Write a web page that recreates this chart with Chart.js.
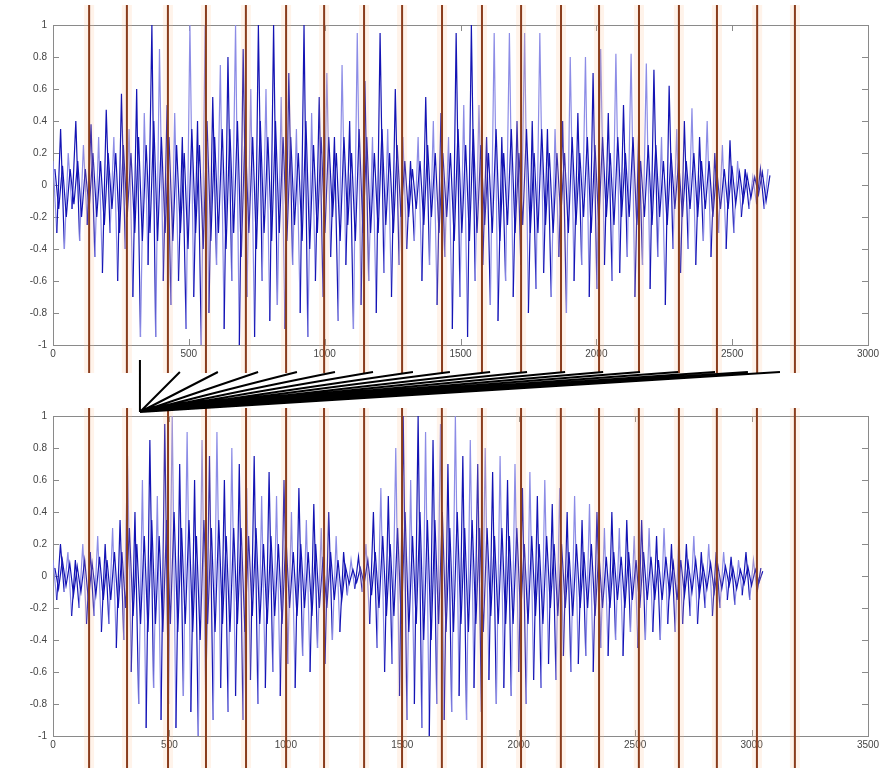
<!DOCTYPE html>
<html>
<head>
<meta charset="utf-8">
<script src="https://cdn.jsdelivr.net/npm/chart.js@4"></script>
<style>
  html, body { margin: 0; padding: 0; background: #fff; }
  #wrap { position: relative; width: 883px; height: 770px; overflow: hidden; }
  canvas { position: absolute; left: 0; }
  #top { top: 0; }
  #bottom { top: 395px; }
  #links { top: 355px; pointer-events: none; }
</style>
</head>
<body>
<div id="wrap">
  <canvas id="top" width="883" height="385"></canvas>
  <canvas id="bottom" width="883" height="375"></canvas>
  <canvas id="links" width="883" height="65"></canvas>
</div>
<script>
// waveform peaks, one value every topStep / bottomStep samples
const topStep = 14;
const topWave = [
  0.15,-0.3,0.35,-0.4,0.2,-0.15,0.4,-0.35,0.25,-0.25,
  0.38,-0.45,0.3,-0.55,0.47,-0.3,0.3,-0.6,0.57,-0.4,
  0.35,-0.7,0.6,-0.95,0.45,-0.5,1.0,-0.95,0.85,-0.6,
  0.5,-0.75,0.45,-0.6,0.3,-0.9,1.0,-0.7,0.4,-1.0,
  1.0,-0.8,0.55,-0.5,0.75,-0.9,0.8,-0.6,1.0,-1.0,
  0.85,-0.7,0.6,-0.95,1.0,-0.6,0.6,-0.85,1.0,-0.75,
  0.55,-0.9,0.7,-0.5,0.35,-0.8,1.0,-0.95,0.45,-0.6,
  0.55,-0.7,0.7,-0.45,0.3,-0.85,0.75,-0.5,0.4,-0.9,
  0.95,-0.75,0.65,-0.6,0.3,-0.8,0.95,-0.55,0.35,-0.7,
  0.6,-0.5,0.3,-0.4,0.15,-0.35,0.3,-0.6,0.55,-0.5,
  0.4,-0.75,0.45,-0.45,0.3,-0.9,0.95,-0.7,0.5,-0.95,
  1.0,-0.6,0.5,-0.5,0.3,-0.75,0.95,-0.85,0.3,-0.6,
  0.95,-0.7,0.4,-0.5,0.95,-0.8,0.4,-0.65,0.95,-0.55,
  0.35,-0.7,0.35,-0.45,0.4,-0.8,0.8,-0.6,0.45,-0.5,
  0.8,-0.7,0.7,-0.65,0.85,-0.5,0.45,-0.6,0.82,-0.55,
  0.5,-0.45,0.82,-0.7,0.35,-0.5,0.76,-0.65,0.72,-0.45,
  0.3,-0.75,0.62,-0.4,0.35,-0.55,0.4,-0.4,0.48,-0.5,
  0.3,-0.35,0.4,-0.45,0.2,-0.3,0.25,-0.4,0.28,-0.3,
  0.15,-0.2,0.1,-0.15,0.05,-0.12,0.1,-0.15,0.1
];
// dense low-level part of the signal, half a step after each peak
const topCore = [
  0.1,-0.15,0.12,-0.2,0.1,-0.12,0.15,-0.2,0.1,-0.15,
  0.2,-0.2,0.15,-0.25,0.2,-0.15,0.2,-0.3,0.25,-0.2,
  0.2,-0.3,0.3,-0.35,0.25,-0.3,0.4,-0.35,0.3,-0.3,
  0.3,-0.35,0.25,-0.3,0.2,-0.4,0.35,-0.3,0.25,-0.4,
  0.4,-0.35,0.3,-0.3,0.35,-0.4,0.35,-0.3,0.4,-0.45,
  0.35,-0.3,0.3,-0.4,0.4,-0.3,0.3,-0.35,0.4,-0.3,
  0.3,-0.35,0.3,-0.25,0.2,-0.35,0.4,-0.4,0.25,-0.3,
  0.3,-0.3,0.3,-0.2,0.2,-0.35,0.3,-0.25,0.2,-0.35,
  0.35,-0.3,0.3,-0.3,0.2,-0.3,0.35,-0.25,0.2,-0.3,
  0.25,-0.2,0.15,-0.2,0.1,-0.15,0.15,-0.25,0.25,-0.2,
  0.2,-0.3,0.2,-0.2,0.2,-0.35,0.35,-0.3,0.25,-0.35,
  0.35,-0.3,0.25,-0.25,0.2,-0.3,0.35,-0.35,0.2,-0.25,
  0.35,-0.3,0.2,-0.25,0.35,-0.3,0.2,-0.3,0.35,-0.25,
  0.2,-0.3,0.2,-0.2,0.2,-0.3,0.3,-0.25,0.2,-0.2,
  0.3,-0.3,0.25,-0.25,0.3,-0.2,0.2,-0.25,0.3,-0.2,
  0.2,-0.2,0.3,-0.25,0.15,-0.2,0.25,-0.25,0.25,-0.2,
  0.15,-0.25,0.2,-0.15,0.15,-0.2,0.15,-0.15,0.2,-0.2,
  0.15,-0.15,0.15,-0.2,0.1,-0.15,0.1,-0.15,0.12,-0.12,
  0.08,-0.1,0.06,-0.08,0.05,-0.06,0.08,-0.1,0.06
];
const bottomStep = 16;
const bottomWave = [
  0.1,-0.15,0.2,-0.1,0.15,-0.25,0.1,-0.2,0.2,-0.3,
  0.15,-0.25,0.25,-0.35,0.2,-0.3,0.3,-0.45,0.35,-0.4,
  0.75,-0.6,0.4,-0.8,0.6,-0.95,0.85,-0.7,0.5,-0.9,
  0.95,-0.8,1.0,-0.95,0.7,-0.75,0.9,-0.85,0.6,-1.0,
  0.85,-0.8,0.75,-0.9,0.9,-0.7,0.6,-0.85,0.8,-0.75,
  0.7,-0.9,0.55,-0.65,0.75,-0.8,0.5,-0.7,0.65,-0.6,
  0.5,-0.75,0.6,-0.55,0.4,-0.7,0.55,-0.5,0.35,-0.6,
  0.45,-0.45,0.3,-0.55,0.4,-0.4,0.25,-0.35,0.15,-0.12,
  0.1,-0.08,0.12,-0.1,0.2,-0.3,0.4,-0.45,0.55,-0.6,
  0.5,-0.55,0.8,-0.75,1.0,-0.9,0.6,-0.8,1.0,-0.95,
  0.9,-1.0,0.85,-0.8,0.95,-0.9,0.7,-0.85,1.0,-0.75,
  0.75,-0.9,0.85,-0.7,0.7,-0.85,0.8,-0.65,0.65,-0.8,
  0.75,-0.7,0.6,-0.75,0.7,-0.6,0.55,-0.8,0.65,-0.65,
  0.5,-0.7,0.6,-0.55,0.45,-0.65,0.55,-0.5,0.4,-0.6,
  0.5,-0.55,0.35,-0.5,0.45,-0.6,0.4,-0.45,0.3,-0.5,
  0.4,-0.4,0.3,-0.5,0.35,-0.35,0.25,-0.45,0.35,-0.4,
  0.3,-0.35,0.25,-0.4,0.3,-0.3,0.2,-0.35,0.25,-0.3,
  0.2,-0.25,0.25,-0.3,0.15,-0.2,0.2,-0.25,0.15,-0.2,
  0.15,-0.15,0.12,-0.18,0.1,-0.12,0.15,-0.15,0.1,-0.1,0.05
];
const bottomCore = [
  0.05,-0.08,0.1,-0.06,0.08,-0.12,0.06,-0.1,0.1,-0.15,
  0.08,-0.12,0.12,-0.15,0.1,-0.15,0.15,-0.2,0.15,-0.2,
  0.3,-0.25,0.2,-0.3,0.25,-0.35,0.35,-0.3,0.25,-0.35,
  0.35,-0.3,0.4,-0.35,0.3,-0.3,0.35,-0.35,0.25,-0.4,
  0.35,-0.3,0.3,-0.35,0.35,-0.3,0.25,-0.35,0.3,-0.3,
  0.3,-0.35,0.25,-0.25,0.3,-0.3,0.2,-0.3,0.25,-0.25,
  0.2,-0.3,0.25,-0.2,0.15,-0.25,0.2,-0.2,0.15,-0.25,
  0.2,-0.2,0.12,-0.2,0.15,-0.15,0.1,-0.15,0.06,-0.05,
  0.04,-0.04,0.05,-0.05,0.1,-0.12,0.15,-0.2,0.25,-0.25,
  0.2,-0.25,0.3,-0.3,0.4,-0.35,0.25,-0.3,0.4,-0.4,
  0.35,-0.4,0.35,-0.3,0.4,-0.35,0.3,-0.35,0.4,-0.3,
  0.3,-0.35,0.35,-0.3,0.3,-0.35,0.3,-0.25,0.25,-0.3,
  0.3,-0.3,0.25,-0.3,0.3,-0.25,0.2,-0.3,0.25,-0.25,
  0.2,-0.3,0.25,-0.2,0.2,-0.25,0.2,-0.2,0.15,-0.25,
  0.2,-0.2,0.15,-0.2,0.2,-0.25,0.15,-0.2,0.12,-0.2,
  0.15,-0.15,0.12,-0.2,0.15,-0.15,0.1,-0.2,0.15,-0.15,
  0.12,-0.15,0.1,-0.15,0.12,-0.12,0.08,-0.15,0.1,-0.12,
  0.08,-0.1,0.1,-0.12,0.06,-0.08,0.08,-0.1,0.06,-0.08,
  0.06,-0.06,0.05,-0.08,0.04,-0.05,0.06,-0.06,0.04,-0.04,0.03
];

// segment boundaries (sample index)
const topMarks = [133,272,423,563,710,858,998,1145,1285,1432,1579,1723,1870,2010,2157,2304,2444,2592,2731];
const bottomMarks = [155,318,494,657,829,1001,1164,1336,1499,1670,1842,2010,2181,2345,2516,2688,2851,3023,3186];

// alignment fan, in top-panel sample units
const linkStart = 320;
const linkEnds = [467,607,755,898,1038,1178,1325,1461,1609,1745,1885,2025,2161,2301,2437,2558,2676];

const topMax = 3000, bottomMax = 3500;

const dark = '#1414b4';
const light = '#8c8ce6';
const brown = '#8a3c1c';
const tickFont = { family: 'Liberation Sans', size: 10 };

function waveData(vals, step, offset) {
  return vals.map((v, i) => ({ x: i * step + offset, y: v }));
}

function markData(xs, y0, y1) {
  const d = [];
  xs.forEach(x => { d.push({ x: x, y: y0 }, { x: x, y: y1 }, { x: x, y: null }); });
  return d;
}

// matlab style box with inward ticks
const matlabBox = {
  id: 'matlabBox',
  beforeDatasetsDraw(chart) {
    const a = chart.chartArea;
    const ctx = chart.ctx;
    ctx.save();
    ctx.strokeStyle = '#8a8a8a';
    ctx.lineWidth = 1;
    ctx.strokeRect(a.left + 0.5, a.top + 0.5, a.right - a.left, a.bottom - a.top);
    ctx.beginPath();
    chart.scales.x.ticks.forEach(t => {
      const px = Math.round(chart.scales.x.getPixelForValue(t.value)) + 0.5;
      ctx.moveTo(px, a.bottom); ctx.lineTo(px, a.bottom - 6);
      ctx.moveTo(px, a.top); ctx.lineTo(px, a.top + 6);
    });
    chart.scales.y.ticks.forEach(t => {
      const py = Math.round(chart.scales.y.getPixelForValue(t.value)) + 0.5;
      ctx.moveTo(a.left, py); ctx.lineTo(a.left + 6, py);
      ctx.moveTo(a.right, py); ctx.lineTo(a.right - 6, py);
    });
    ctx.stroke();
    ctx.restore();
  }
};

function panel(id, vals, core, step, marks, xmax, yTop, yBot, padTop, axisH) {
  return new Chart(document.getElementById(id), {
    type: 'line',
    data: {
      datasets: [
        {
          data: markData(marks, yTop, yBot),
          borderColor: brown,
          borderWidth: 2,
          pointRadius: 0,
          clip: false
        },
        {
          data: markData(marks, yTop, yBot),
          borderColor: 'rgba(255,190,140,0.18)',
          borderWidth: 10,
          pointRadius: 0,
          clip: false
        },
        {
          data: waveData(core, step, step / 2),
          borderWidth: 1.2,
          pointRadius: 0,
          borderColor: dark
        },
        {
          data: waveData(vals, step, 0),
          borderWidth: 1.2,
          pointRadius: 0,
          borderColor: light,
          segment: {
            borderColor: c => (c.p0DataIndex % 4 === 1 || c.p0DataIndex % 4 === 2) ? dark : light
          }
        }
      ]
    },
    options: {
      responsive: false,
      animation: false,
      devicePixelRatio: 1,
      layout: { padding: { left: 0, right: 15, top: padTop, bottom: 0 } },
      plugins: { legend: { display: false }, tooltip: { enabled: false } },
      scales: {
        x: {
          type: 'linear', min: 0, max: xmax,
          grid: { display: false, drawTicks: false },
          border: { display: false },
          ticks: { stepSize: 500, color: '#444', font: tickFont, padding: 3, maxRotation: 0,
                   callback: v => String(v) },
          afterFit(s) { s.height = axisH; }
        },
        y: {
          min: -1, max: 1,
          grid: { display: false, drawTicks: false },
          border: { display: false },
          ticks: { stepSize: 0.2, color: '#444', font: tickFont, padding: 6,
                   callback: v => String(+v.toFixed(1)) },
          afterFit(s) { s.width = 53; }
        }
      }
    },
    plugins: [matlabBox]
  });
}

panel('top', topWave, topCore, topStep, topMarks, topMax, 1.125, -1.175, 25, 40);
panel('bottom', bottomWave, bottomCore, bottomStep, bottomMarks, bottomMax, 1.05, -1.2, 21, 34);

// fan of alignment lines between the panels
const fan = [{ x: linkStart, y: 1.3 }, { x: linkStart, y: 0 }, { x: linkStart, y: null }];
linkEnds.forEach(e => { fan.push({ x: linkStart, y: 0 }, { x: e, y: 1 }, { x: e, y: null }); });

new Chart(document.getElementById('links'), {
  type: 'line',
  data: {
    datasets: [{
      data: fan,
      borderColor: '#000',
      borderWidth: 2,
      pointRadius: 0,
      clip: false
    }]
  },
  options: {
    responsive: false,
    animation: false,
    devicePixelRatio: 1,
    layout: { padding: { left: 53, right: 15, top: 17, bottom: 8 } },
    plugins: { legend: { display: false }, tooltip: { enabled: false } },
    scales: {
      x: { type: 'linear', min: 0, max: topMax, display: false },
      y: { min: 0, max: 1, display: false }
    }
  }
});
</script>
</body>
</html>
